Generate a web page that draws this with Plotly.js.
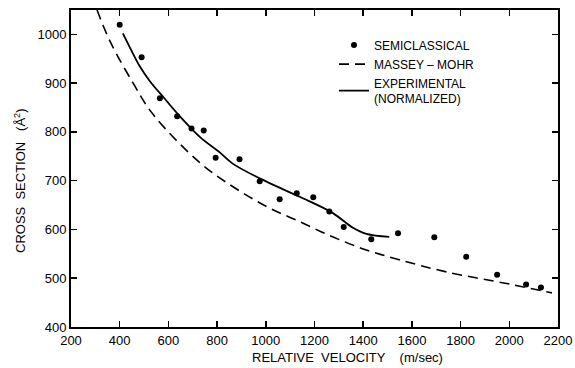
<!DOCTYPE html>
<html><head><meta charset="utf-8">
<script src="https://cdn.plot.ly/plotly-3.0.1.min.js"></script>
<style>html,body{margin:0;padding:0;background:#fff}#c{width:575px;height:368px}</style>
</head><body><div id="c"></div>
<script>
const semiX = [400, 490, 565, 636, 695, 745, 794, 892, 975, 1057, 1127, 1195, 1261, 1320, 1433, 1543, 1692, 1823, 1950, 2069, 2130];
const semiY = [1020, 953, 869, 832, 807, 803, 747, 744, 699, 662, 674, 666, 637, 605, 580, 592, 584, 544, 507, 487, 481];
const expX = [413, 442, 483, 524, 585, 640, 729, 811, 864, 1003, 1139, 1274, 1356, 1413, 1507];
const expY = [1002, 973, 934, 904, 868, 836, 790, 758, 735, 698, 667, 634, 604, 591, 585];
const mmX = [307, 360, 454, 537, 729, 864, 1003, 1139, 1274, 1413, 1548, 1741, 2011, 2175];
const mmY = [1050, 986, 901, 836, 737, 688, 647, 616, 585, 558, 538, 513, 487, 470];
const xTicks = [200, 400, 600, 800, 1000, 1200, 1400, 1600, 1800, 2000, 2200];
const yTicks = [400, 500, 600, 700, 800, 900, 1000];

const F = "Liberation Sans, Arial, sans-serif";
const traces = [
  {x: semiX, y: semiY, mode: 'markers', name: 'SEMICLASSICAL',
   marker: {color: '#000', size: 6}},
  {x: mmX, y: mmY, mode: 'lines', name: 'MASSEY – MOHR',
   line: {color: '#000', width: 1.6, dash: '10px,6px', shape: 'spline', smoothing: 1}},
  {x: expX, y: expY, mode: 'lines', name: 'EXPERIMENTAL<br>(NORMALIZED)',
   line: {color: '#000', width: 1.8, shape: 'spline', smoothing: 1}}
];
const axBase = {showgrid: false, zeroline: false, showline: true, linecolor: '#000', linewidth: 2,
  mirror: 'allticks', ticks: 'inside', ticklen: 6, tickwidth: 1.5, tickcolor: '#000',
  tickfont: {family: F, size: 13, color: '#000'}};
const layout = {
  width: 575, height: 368,
  margin: {l: 71, r: 17, t: 10, b: 41},
  paper_bgcolor: '#fff', plot_bgcolor: '#fff',
  showlegend: true,
  legend: {x: 0.54, y: 0.935, xanchor: 'left', yanchor: 'top', bgcolor: 'rgba(0,0,0,0)',
    font: {family: F, size: 12, color: '#000'}, tracegroupgap: 0, itemwidth: 30},
  xaxis: Object.assign({}, axBase, {range: [200, 2200], tickvals: xTicks}),
  yaxis: Object.assign({}, axBase, {range: [400, 1050], tickvals: yTicks}),
  annotations: [
    {xref: 'paper', yref: 'paper', x: (347 - 71) / 487, y: -(357 - 327) / 317, xanchor: 'center', yanchor: 'middle',
     showarrow: false, text: 'RELATIVE  VELOCITY    (m/sec)', font: {family: F, size: 13, color: '#000'}},
    {xref: 'paper', yref: 'paper', x: -(71 - 20) / 487, y: (327 - 181) / 317, xanchor: 'center', yanchor: 'middle',
     showarrow: false, textangle: -90, text: 'CROSS  SECTION   (Å<sup>2</sup>)', font: {family: F, size: 13, color: '#000'}}
  ]
};
Plotly.newPlot('c', traces, layout, {displayModeBar: false, staticPlot: true});
</script></body></html>
